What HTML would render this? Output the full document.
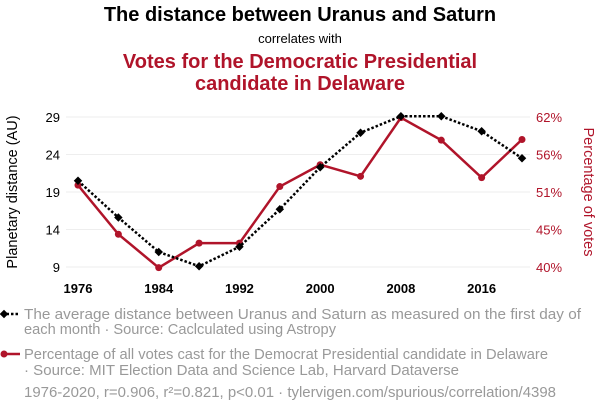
<!DOCTYPE html>
<html><head><meta charset="utf-8"><style>
body{margin:0;width:600px;height:414px;background:#fff;font-family:"Liberation Sans",sans-serif;overflow:hidden}
svg{position:absolute;left:0;top:0}
text{font-family:"Liberation Sans",sans-serif}
</style></head><body>
<svg width="600" height="414" id="chart">
<text x="300" y="21" text-anchor="middle" font-size="20" font-weight="bold" fill="#000">The distance between Uranus and Saturn</text>
<text x="300" y="43" text-anchor="middle" font-size="13" fill="#000">correlates with</text>
<text x="300" y="68" text-anchor="middle" font-size="20" font-weight="bold" fill="#b0142a">Votes for the Democratic Presidential</text>
<text x="300" y="90" text-anchor="middle" font-size="20" font-weight="bold" fill="#b0142a">candidate in Delaware</text>
<text transform="translate(17,192) rotate(-90)" text-anchor="middle" font-size="14.5" fill="#000">Planetary distance (AU)</text>
<text transform="translate(584,192) rotate(90)" text-anchor="middle" font-size="14.5" fill="#b0142a">Percentage of votes</text>
<g id="grid"></g><g id="axes"></g><g id="series"></g>
<g>
<line x1="2" y1="314" x2="20" y2="314" stroke="#000" stroke-width="2.5" stroke-dasharray="2.5,2"/>
<rect x="1" y="311" width="6" height="6" transform="rotate(45 4 314)" fill="#000"/>
<text x="24" y="319" font-size="14.5" fill="#999" textLength="557" lengthAdjust="spacingAndGlyphs">The average distance between Uranus and Saturn as measured on the first day of</text>
<text x="24" y="334" font-size="14.5" fill="#999" textLength="312" lengthAdjust="spacingAndGlyphs">each month · Source: Caclculated using Astropy</text>
<line x1="2" y1="354" x2="20" y2="354" stroke="#b0142a" stroke-width="2.5"/>
<circle cx="4" cy="354" r="3.5" fill="#b0142a"/>
<text x="24" y="359" font-size="14.5" fill="#999" textLength="524" lengthAdjust="spacingAndGlyphs">Percentage of all votes cast for the Democrat Presidential candidate in Delaware</text>
<text x="24" y="375" font-size="14.5" fill="#999" textLength="435" lengthAdjust="spacingAndGlyphs">· Source: MIT Election Data and Science Lab, Harvard Dataverse</text>
<text x="24" y="397" font-size="14.5" fill="#999" textLength="532" lengthAdjust="spacingAndGlyphs">1976-2020, r=0.906, r²=0.821, p&lt;0.01 · tylervigen.com/spurious/correlation/4398</text>
</g>
</svg>
<script>
const years=[1976,1980,1984,1988,1992,1996,2000,2004,2008,2012,2016,2020];
const distance=[20.5,15.6,11.0,9.1,11.7,16.7,22.3,26.9,29.1,29.1,27.1,23.5];
const votes=[52.0,44.8,39.9,43.5,43.5,51.8,55.0,53.3,61.9,58.6,53.1,58.7];
const xTicks=[1976,1984,1992,2000,2008,2016];
const leftTicks=[9,14,19,24,29];
const rightTicks=[40,45.5,51,56.5,62];
const rightLabels=["40%","45%","51%","56%","62%"];
const NS="http://www.w3.org/2000/svg";
const x=v=>78+(v-1976)*(444/44);
const yl=v=>267-(v-9)*(150/20);
const yr=v=>267-(v-40)*(150/22);
function mk(tag,attrs,parent){const e=document.createElementNS(NS,tag);for(const k in attrs)e.setAttribute(k,attrs[k]);document.getElementById(parent).appendChild(e);return e;}
leftTicks.forEach((t,i)=>{
 const g=mk('line',{x1:66,x2:530,y1:yl(t),y2:yl(t),stroke:'#eee','stroke-width':1},'grid');
 
 
 const a=mk('text',{x:60,y:yl(t)+5,'text-anchor':'end','font-size':13,fill:'#000'},'axes');a.textContent=t;
 
 
 const b=mk('text',{x:536,y:yr(rightTicks[i])+5,'font-size':13,fill:'#b0142a'},'axes');b.textContent=rightLabels[i];
 
 
});
xTicks.forEach(t=>{const e=mk('text',{x:x(t),y:293,'text-anchor':'middle','font-size':13,'font-weight':'bold',fill:'#000'},'axes');e.textContent=t;
 
 });
const rp=years.map((yy,i)=>x(yy)+','+yr(votes[i])).join(' ');
const rl=mk('polyline',{points:rp,fill:'none',stroke:'#b0142a','stroke-width':2.5},'series');


years.forEach((yy,i)=>{const c=mk('circle',{cx:x(yy),cy:yr(votes[i]),r:3.5,fill:'#b0142a'},'series');
 
 });
const bp=years.map((yy,i)=>x(yy)+','+yl(distance[i])).join(' ');
const bl=mk('polyline',{points:bp,fill:'none',stroke:'#000','stroke-width':2.5,'stroke-dasharray':'2.5,2'},'series');


years.forEach((yy,i)=>{const cx=x(yy),cy=yl(distance[i]);const r=mk('rect',{x:cx-3,y:cy-3,width:6,height:6,fill:'#000',transform:`rotate(45 ${cx} ${cy})`},'series');
 
 });
</script>
</body></html>
